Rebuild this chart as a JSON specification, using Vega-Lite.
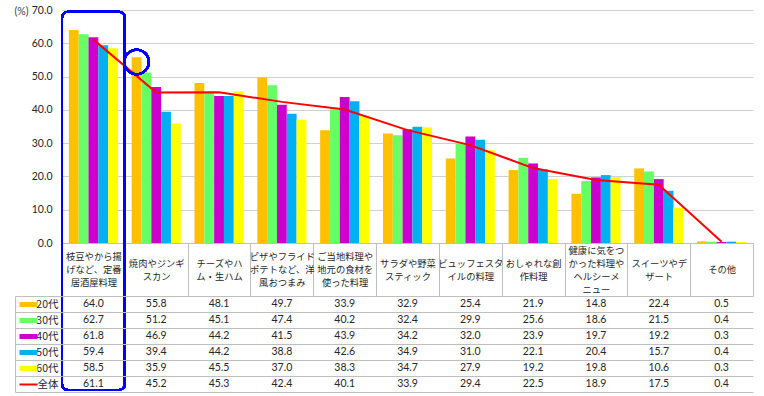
{
  "$schema": "https://vega.github.io/schema/vega-lite/v6.json",
  "padding": {"left": 13, "top": 5, "right": 0, "bottom": 0},
  "background": "white",
  "config": {"view": {"stroke": null}, "font": "Noto Sans CJK JP"},
  "datasets": {
    "d": [
      {"c": "枝豆やから揚\nげなど、定番\n居酒屋料理", "s": "20代", "v": 64.0},
      {"c": "焼肉やジンギ\nスカン", "s": "20代", "v": 55.8},
      {"c": "チーズやハ\nム・生ハム", "s": "20代", "v": 48.1},
      {"c": "ピザやフライド\nポテトなど、洋\n風おつまみ", "s": "20代", "v": 49.7},
      {"c": "ご当地料理や\n地元の食材を\n使った料理", "s": "20代", "v": 33.9},
      {"c": "サラダや野菜\nスティック", "s": "20代", "v": 32.9},
      {"c": "ビュッフェスタ\nイルの料理", "s": "20代", "v": 25.4},
      {"c": "おしゃれな創\n作料理", "s": "20代", "v": 21.9},
      {"c": "健康に気をつ\nかった料理や\nヘルシーメ\nニュー", "s": "20代", "v": 14.8},
      {"c": "スイーツやデ\nザート", "s": "20代", "v": 22.4},
      {"c": "その他", "s": "20代", "v": 0.5},
      {"c": "枝豆やから揚\nげなど、定番\n居酒屋料理", "s": "30代", "v": 62.7},
      {"c": "焼肉やジンギ\nスカン", "s": "30代", "v": 51.2},
      {"c": "チーズやハ\nム・生ハム", "s": "30代", "v": 45.1},
      {"c": "ピザやフライド\nポテトなど、洋\n風おつまみ", "s": "30代", "v": 47.4},
      {"c": "ご当地料理や\n地元の食材を\n使った料理", "s": "30代", "v": 40.2},
      {"c": "サラダや野菜\nスティック", "s": "30代", "v": 32.4},
      {"c": "ビュッフェスタ\nイルの料理", "s": "30代", "v": 29.9},
      {"c": "おしゃれな創\n作料理", "s": "30代", "v": 25.6},
      {"c": "健康に気をつ\nかった料理や\nヘルシーメ\nニュー", "s": "30代", "v": 18.6},
      {"c": "スイーツやデ\nザート", "s": "30代", "v": 21.5},
      {"c": "その他", "s": "30代", "v": 0.4},
      {"c": "枝豆やから揚\nげなど、定番\n居酒屋料理", "s": "40代", "v": 61.8},
      {"c": "焼肉やジンギ\nスカン", "s": "40代", "v": 46.9},
      {"c": "チーズやハ\nム・生ハム", "s": "40代", "v": 44.2},
      {"c": "ピザやフライド\nポテトなど、洋\n風おつまみ", "s": "40代", "v": 41.5},
      {"c": "ご当地料理や\n地元の食材を\n使った料理", "s": "40代", "v": 43.9},
      {"c": "サラダや野菜\nスティック", "s": "40代", "v": 34.2},
      {"c": "ビュッフェスタ\nイルの料理", "s": "40代", "v": 32.0},
      {"c": "おしゃれな創\n作料理", "s": "40代", "v": 23.9},
      {"c": "健康に気をつ\nかった料理や\nヘルシーメ\nニュー", "s": "40代", "v": 19.7},
      {"c": "スイーツやデ\nザート", "s": "40代", "v": 19.2},
      {"c": "その他", "s": "40代", "v": 0.3},
      {"c": "枝豆やから揚\nげなど、定番\n居酒屋料理", "s": "50代", "v": 59.4},
      {"c": "焼肉やジンギ\nスカン", "s": "50代", "v": 39.4},
      {"c": "チーズやハ\nム・生ハム", "s": "50代", "v": 44.2},
      {"c": "ピザやフライド\nポテトなど、洋\n風おつまみ", "s": "50代", "v": 38.8},
      {"c": "ご当地料理や\n地元の食材を\n使った料理", "s": "50代", "v": 42.6},
      {"c": "サラダや野菜\nスティック", "s": "50代", "v": 34.9},
      {"c": "ビュッフェスタ\nイルの料理", "s": "50代", "v": 31.0},
      {"c": "おしゃれな創\n作料理", "s": "50代", "v": 22.1},
      {"c": "健康に気をつ\nかった料理や\nヘルシーメ\nニュー", "s": "50代", "v": 20.4},
      {"c": "スイーツやデ\nザート", "s": "50代", "v": 15.7},
      {"c": "その他", "s": "50代", "v": 0.4},
      {"c": "枝豆やから揚\nげなど、定番\n居酒屋料理", "s": "60代", "v": 58.5},
      {"c": "焼肉やジンギ\nスカン", "s": "60代", "v": 35.9},
      {"c": "チーズやハ\nム・生ハム", "s": "60代", "v": 45.5},
      {"c": "ピザやフライド\nポテトなど、洋\n風おつまみ", "s": "60代", "v": 37.0},
      {"c": "ご当地料理や\n地元の食材を\n使った料理", "s": "60代", "v": 38.3},
      {"c": "サラダや野菜\nスティック", "s": "60代", "v": 34.7},
      {"c": "ビュッフェスタ\nイルの料理", "s": "60代", "v": 27.9},
      {"c": "おしゃれな創\n作料理", "s": "60代", "v": 19.2},
      {"c": "健康に気をつ\nかった料理や\nヘルシーメ\nニュー", "s": "60代", "v": 19.8},
      {"c": "スイーツやデ\nザート", "s": "60代", "v": 10.6},
      {"c": "その他", "s": "60代", "v": 0.3},
      {"c": "枝豆やから揚\nげなど、定番\n居酒屋料理", "s": "全体", "v": 61.1},
      {"c": "焼肉やジンギ\nスカン", "s": "全体", "v": 45.2},
      {"c": "チーズやハ\nム・生ハム", "s": "全体", "v": 45.3},
      {"c": "ピザやフライド\nポテトなど、洋\n風おつまみ", "s": "全体", "v": 42.4},
      {"c": "ご当地料理や\n地元の食材を\n使った料理", "s": "全体", "v": 40.1},
      {"c": "サラダや野菜\nスティック", "s": "全体", "v": 33.9},
      {"c": "ビュッフェスタ\nイルの料理", "s": "全体", "v": 29.4},
      {"c": "おしゃれな創\n作料理", "s": "全体", "v": 22.5},
      {"c": "健康に気をつ\nかった料理や\nヘルシーメ\nニュー", "s": "全体", "v": 18.9},
      {"c": "スイーツやデ\nザート", "s": "全体", "v": 17.5},
      {"c": "その他", "s": "全体", "v": 0.4}
    ]
  },
  "vconcat": [
    {
      "width": 691,
      "height": 233,
      "data": {"name": "d"},
      "encoding": {
        "x": {
          "field": "c", "type": "nominal", "sort": null,
          "scale": {"paddingInner": 0, "paddingOuter": 0},
          "axis": {
            "orient": "bottom", "title": null, "labelAngle": 0,
            "labelExpr": "split(datum.label, '\\n')",
            "labelFont": "Noto Sans CJK JP", "labelFontSize": 9.3, "labelLineHeight": 13,
            "labelBaseline": "middle", "labelColor": "#262626",
            "labelOverlap": false, "labelBound": false, "labelLimit": 0,
            "tickBand": "extent", "tickSize": 53, "tickColor": "#BFBFBF",
            "domainColor": "#BFBFBF",
            "labelPadding": {
              "condition": [
                {"test": "length(split(datum.value, '\\n')) == 4", "value": -46},
                {"test": "length(split(datum.value, '\\n')) == 3", "value": -39.5},
                {"test": "length(split(datum.value, '\\n')) == 2", "value": -33}
              ],
              "value": -26.5
            }
          }
        },
        "y": {
          "field": "v", "type": "quantitative",
          "scale": {"domain": [0, 70], "nice": false},
          "axis": {
            "values": [0, 10, 20, 30, 40, 50, 60, 70], "format": ".1f",
            "domain": false, "ticks": false, "labelPadding": 10, "labelOverlap": false,
            "labelFont": "Lato", "labelFontSize": 10.5, "labelColor": "#262626",
            "gridColor": "#D0D0D0",
            "title": "(%)", "titleAngle": 0, "titleAlign": "center", "titleBaseline": "middle",
            "titleX": -41, "titleY": 1, "titleFont": "Lato", "titleFontWeight": "normal",
            "titleFontSize": 10.5, "titleColor": "#404040"
          }
        }
      },
      "layer": [
        {
          "transform": [{"filter": "datum.s != '全体'"}],
          "mark": {"type": "bar"},
          "encoding": {
            "xOffset": {
              "field": "s", "type": "nominal",
              "scale": {"domain": ["20代", "30代", "40代", "50代", "60代"], "paddingInner": 0, "paddingOuter": 0.7}
            },
            "color": {
              "field": "s", "type": "nominal", "legend": null,
              "scale": {"domain": ["20代", "30代", "40代", "50代", "60代", "全体"], "range": ["#FFC000", "#66FF66", "#CC00CC", "#00B0F0", "#FFFF00", "#FF0000"]}
            }
          }
        },
        {
          "transform": [{"filter": "datum.s == '全体'"}],
          "mark": {"type": "line", "color": "#FF0000", "strokeWidth": 2}
        },
        {
          "mark": {"type": "rect", "fill": null, "stroke": "#0000FF", "strokeWidth": 2, "cornerRadius": 6, "clip": false},
          "encoding": {
            "x": {"datum": "枝豆やから揚\nげなど、定番\n居酒屋料理"},
            "y": {"datum": 69.5},
            "y2": {"datum": -44.2}
          }
        },
        {
          "mark": {"type": "point", "shape": "circle", "filled": false, "stroke": "#0000FF", "strokeWidth": 2, "size": 600, "opacity": 1},
          "encoding": {
            "x": {"datum": "焼肉やジンギ\nスカン"},
            "xOffset": {"datum": "20代"},
            "y": {"datum": 54.4}
          }
        }
      ]
    },
    {
      "width": 691,
      "height": 96,
      "data": {"name": "d"},
      "layer": [
        {
          "mark": {"type": "text", "font": "Lato", "fontSize": 10.5, "color": "#262626"},
          "encoding": {
            "x": {
              "field": "c", "type": "nominal", "sort": null,
              "scale": {"paddingInner": 0, "paddingOuter": 0},
              "axis": {"labels": false, "ticks": false, "domain": false, "title": null, "grid": true, "tickBand": "extent", "gridColor": "#BFBFBF"}
            },
            "y": {
              "field": "s", "type": "nominal",
              "scale": {"domain": ["20代", "30代", "40代", "50代", "60代", "全体"], "paddingInner": 0, "paddingOuter": 0},
              "axis": {
                "orient": "left", "title": null, "grid": true, "gridColor": "#BFBFBF",
                "tickBand": "extent", "tickSize": 47, "tickColor": "#BFBFBF",
                "domain": false, "labelPadding": -43, "labelAlign": "right",
                "labelFont": "Noto Sans CJK JP", "labelFontSize": 10.5, "labelColor": "#262626"
              }
            },
            "text": {"field": "v", "type": "quantitative", "format": ".1f"}
          }
        },
        {
          "mark": {"type": "text", "text": ""},
          "encoding": {
            "x": {"field": "c", "type": "nominal", "sort": null, "axis": null},
            "y": {
              "field": "s", "type": "nominal",
              "scale": {"domain": ["20代", "30代", "40代", "50代", "60代", "全体"], "paddingInner": 0, "paddingOuter": 0},
              "axis": {
                "orient": "left", "title": null, "grid": false, "labels": false,
                "offset": 43, "domain": false,
                "ticks": true, "tickSize": -18, "tickCap": "butt",
                "tickWidth": {"condition": {"test": "datum.value == '全体'", "value": 2}, "value": 5},
                "tickColor": {
                  "condition": [
                    {"test": "datum.value == '20代'", "value": "#FFC000"},
                    {"test": "datum.value == '30代'", "value": "#66FF66"},
                    {"test": "datum.value == '40代'", "value": "#CC00CC"},
                    {"test": "datum.value == '50代'", "value": "#00B0F0"},
                    {"test": "datum.value == '60代'", "value": "#FFFF00"}
                  ],
                  "value": "#FF0000"
                }
              }
            }
          }
        },
        {
          "mark": {"type": "text", "text": ""},
          "encoding": {
            "x": {"field": "c", "type": "nominal", "sort": null, "axis": null},
            "y": {
              "field": "s", "type": "nominal",
              "scale": {"domain": ["20代", "30代", "40代", "50代", "60代", "全体"], "paddingInner": 0, "paddingOuter": 0},
              "axis": {
                "orient": "left", "title": null, "grid": false, "labels": false, "ticks": false,
                "offset": 47, "domain": true, "domainColor": "#BFBFBF"
              }
            }
          }
        }
      ],
      "resolve": {"scale": {"y": "independent"}, "axis": {"y": "independent"}}
    }
  ],
  "spacing": 53,
  "bounds": "flush"
}
